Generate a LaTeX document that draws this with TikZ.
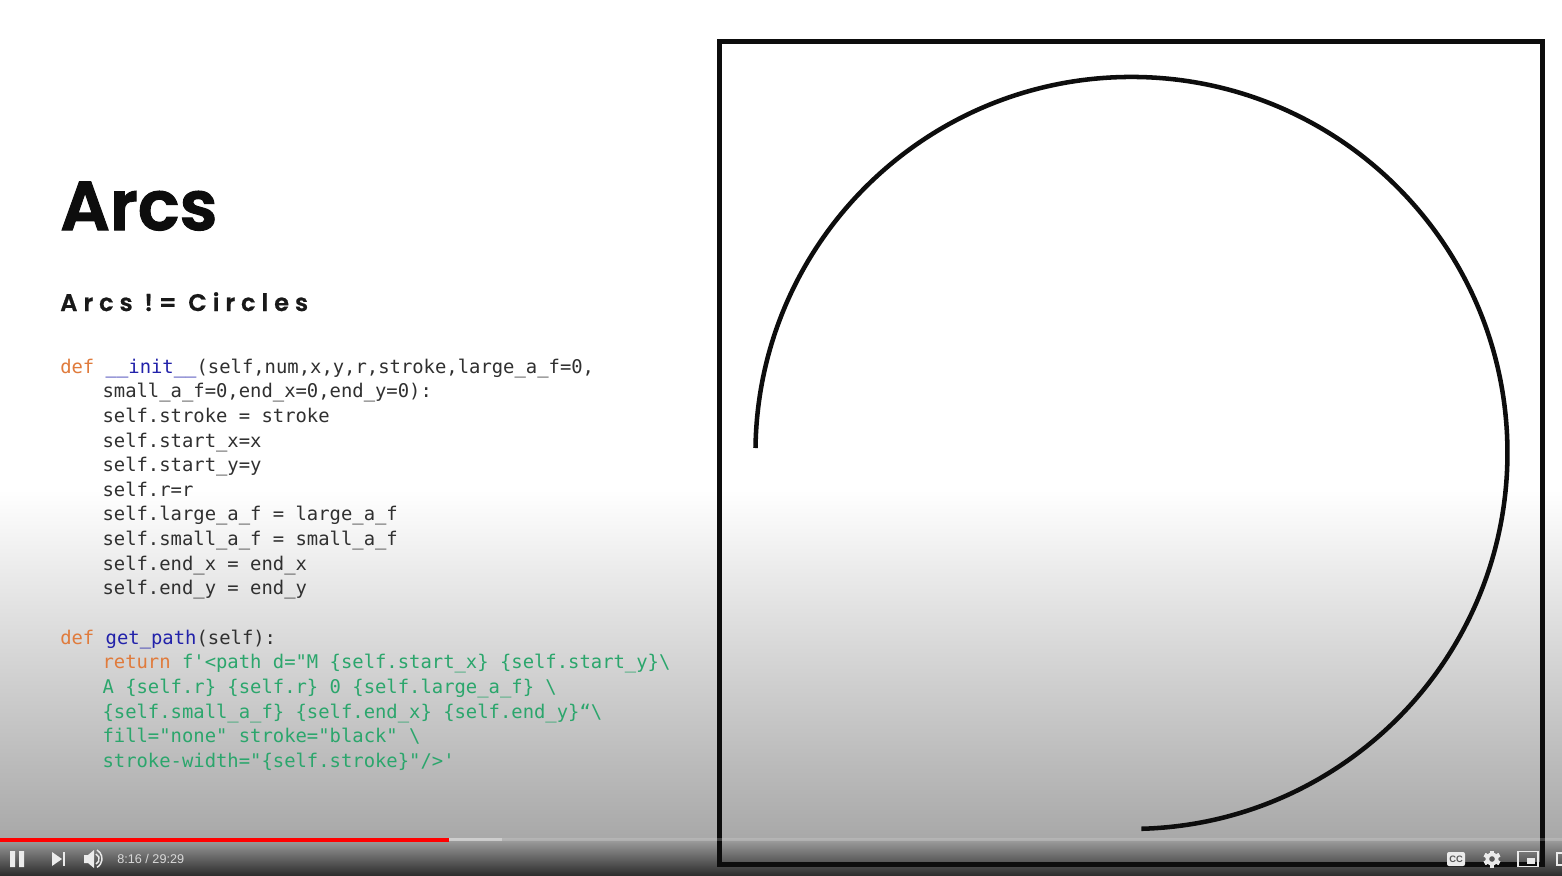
\documentclass[tikz,border=0pt]{standalone}
\usepackage{fontspec}
\setmonofont{DejaVu Sans Mono}
\newfontfamily\headfont{Poppins SemiBold}
\newfontfamily\timefont{Liberation Sans}
\usepackage{xcolor}
\definecolor{kwcolor}{HTML}{E07B3C}
\definecolor{fncolor}{HTML}{2222AA}
\definecolor{strcolor}{HTML}{2BA66C}
\definecolor{codecolor}{HTML}{303030}
\newcommand{\kw}[1]{\textcolor{kwcolor}{#1}}
\newcommand{\fn}[1]{\textcolor{fncolor}{#1}}
\newcommand{\str}[1]{\textcolor{strcolor}{#1}}
\newcommand{\ind}{\hspace*{31.7pt}}
\tikzset{
  code/.style={anchor=north west, inner sep=0pt, align=left, text=codecolor,
    font=\ttfamily\fontsize{14.15pt}{18.45pt}\selectfont},
  ctrl/.style={fill=white!92!black, draw=none},
}
\begin{document}
\begin{tikzpicture}[x=0.75pt, y=-0.75pt]
\useasboundingbox (0,0) rectangle (1562,875);
% background
\fill[white] (0,0) rectangle (1562,490);
\fill[top color=white, bottom color=black!34] (0,490) rectangle (1562,838);
\fill[top color=black!36, bottom color=black!82] (0,838) rectangle (1562,875);
% frame and arc
\draw[line width=3.75pt, color=black!95] (719.5,41.5) rectangle (1542.5,864);
\coordinate (arcstart) at (755.5,448);
\draw[line width=3.4pt, color=black!95] (arcstart) arc[start angle=180.75, end angle=448.5, radius=376];
% left column
\node[anchor=base west, inner sep=0pt, font=\headfont\fontsize{52pt}{60pt}\selectfont\addfontfeature{FakeBold=1.5}, text=black!95] (title) at (60,230) {Arcs};
\node[anchor=base west, inner sep=0pt, font=\headfont\fontsize{18pt}{22pt}\selectfont\addfontfeature{LetterSpace=25,FakeBold=0.8}, text=black!90] (subtitle) at (60,311) {Arcs != Circles};
\node[code] (init) at (60,358.5) {%
\kw{def} \fn{\_\_init\_\_}(self,num,x,y,r,stroke,large\_a\_f=0,\\
\ind small\_a\_f=0,end\_x=0,end\_y=0):\\
\ind self.stroke = stroke\\
\ind self.start\_x=x\\
\ind self.start\_y=y\\
\ind self.r=r\\
\ind self.large\_a\_f = large\_a\_f\\
\ind self.small\_a\_f = small\_a\_f\\
\ind self.end\_x = end\_x\\
\ind self.end\_y = end\_y};
\node[code] (getpath) at (60,629.5) {%
\kw{def} \fn{get\_path}(self):\\
\ind\kw{return} \str{f'<path d="M \{self.start\_x\} \{self.start\_y\}\textbackslash}\\
\ind\str{A \{self.r\} \{self.r\} 0 \{self.large\_a\_f\} \textbackslash}\\
\ind\str{\{self.small\_a\_f\} \{self.end\_x\} \{self.end\_y\}“\textbackslash}\\
\ind\str{fill="none" stroke="black" \textbackslash}\\
\ind\str{stroke-width="\{self.stroke\}"/>'}};
% player bar
\fill[white, opacity=0.2] (0,838) rectangle (1562,841);
\fill[white, opacity=0.35] (449,838) rectangle (502,841);
\fill[red] (0,838) rectangle (449,841.5);
\fill[ctrl] (10,851) rectangle (15,867) (19,851) rectangle (24,867);
\fill[ctrl] (52,852) -- (62,859) -- (52,866) -- cycle;
\fill[ctrl] (62.5,852) rectangle (65,866);
\fill[ctrl] (84,855) -- (88,855) -- (94,850) -- (94,868) -- (88,863) -- (84,863) -- cycle;
\draw[white!92!black, line width=1.1pt] (96,854) arc[start angle=-65, end angle=65, radius=5.5];
\draw[white!92!black, line width=1.1pt] (97,850) arc[start angle=-60, end angle=60, radius=10];
\node[anchor=west, inner sep=0pt, text=white!85!black, font=\timefont\fontsize{9.5pt}{11pt}\selectfont] (clock) at (117,858.5) {8:16 / 29:29};
% right icons
\fill[ctrl, rounded corners=1.5pt] (1447,852) rectangle (1465,866);
\node[inner sep=0pt, text=black!65, font=\timefont\bfseries\fontsize{7pt}{8pt}\selectfont] (cc) at (1456,859) {CC};
\foreach \a in {0,60,...,300}
  \fill[ctrl, rotate around={\a:(1492,859)}] (1490,850.5) rectangle (1494,867.5);
\fill[ctrl] (1492,859) circle (6.5);
\fill[black!65] (1492,859) circle (2.8);
\draw[white!92!black, line width=1.3pt] (1518,851.5) rectangle (1538,866.5);
\fill[ctrl] (1527,858) rectangle (1535,864);
\draw[white!92!black, line width=1.3pt] (1562,853) -- (1557,853) -- (1557,865) -- (1562,865);
\end{tikzpicture}
\end{document}
